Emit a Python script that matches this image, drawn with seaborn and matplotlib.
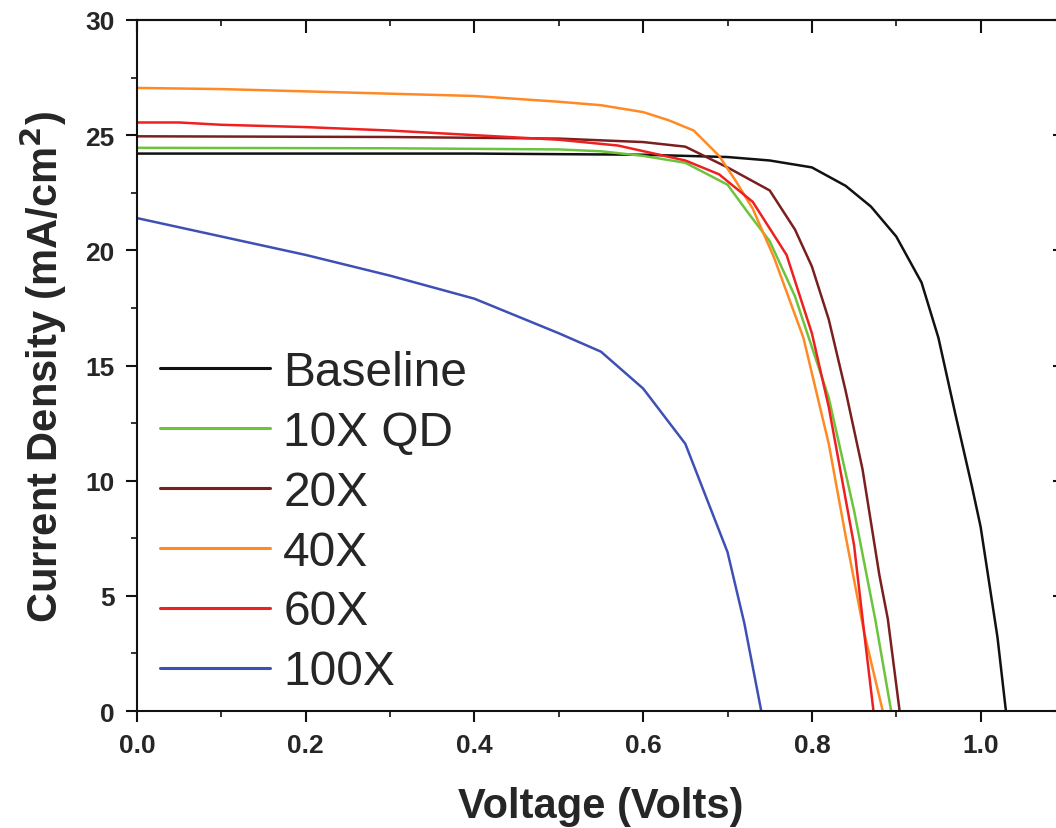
import numpy as np
import pandas as pd
import matplotlib
matplotlib.use("Agg")
import matplotlib.pyplot as plt
from matplotlib.ticker import MultipleLocator
import seaborn as sns

# J-V curves: voltage (V) and current density (mA/cm^2) for each device
series_names = ["Baseline", "10X QD", "20X", "40X", "60X", "100X"]

v_baseline = [0.0, 0.2, 0.4, 0.6, 0.7, 0.75, 0.8, 0.84, 0.87, 0.9, 0.93, 0.95, 0.97, 0.99, 1.0, 1.01, 1.02, 1.03]
j_baseline = [24.2, 24.2, 24.2, 24.15, 24.05, 23.9, 23.6, 22.8, 21.9, 20.6, 18.6, 16.2, 12.9, 9.7, 8.0, 5.6, 3.2, 0.0]

v_10x = [0.0, 0.3, 0.5, 0.55, 0.6, 0.65, 0.7, 0.725, 0.75, 0.78, 0.8, 0.82, 0.85, 0.875, 0.894]
j_10x = [24.45, 24.43, 24.38, 24.3, 24.1, 23.8, 22.85, 21.6, 20.4, 18.0, 15.8, 13.6, 8.7, 4.0, 0.0]

v_20x = [0.0, 0.3, 0.5, 0.6, 0.65, 0.7, 0.75, 0.78, 0.8, 0.82, 0.84, 0.86, 0.88, 0.89, 0.904]
j_20x = [24.95, 24.92, 24.85, 24.7, 24.5, 23.6, 22.6, 20.9, 19.3, 17.0, 13.9, 10.5, 5.9, 4.0, 0.0]

v_40x = [0.0, 0.1, 0.2, 0.3, 0.4, 0.5, 0.55, 0.6, 0.63, 0.66, 0.69, 0.71, 0.73, 0.755, 0.79, 0.82, 0.84, 0.862, 0.884]
j_40x = [27.05, 27.0, 26.9, 26.8, 26.7, 26.45, 26.3, 26.0, 25.65, 25.2, 24.1, 23.0, 21.8, 19.7, 16.2, 11.6, 7.6, 3.4, 0.0]

v_60x = [0.0, 0.05, 0.1, 0.2, 0.3, 0.4, 0.5, 0.57, 0.65, 0.69, 0.73, 0.77, 0.8, 0.82, 0.85, 0.862, 0.873]
j_60x = [25.55, 25.55, 25.45, 25.35, 25.2, 25.0, 24.8, 24.55, 23.9, 23.3, 22.1, 19.8, 16.4, 13.2, 7.2, 3.4, 0.0]

v_100x = [0.0, 0.05, 0.1, 0.2, 0.3, 0.4, 0.5, 0.55, 0.6, 0.65, 0.7, 0.72, 0.74]
j_100x = [21.4, 21.0, 20.6, 19.8, 18.9, 17.9, 16.4, 15.6, 14.0, 11.6, 6.9, 3.8, 0.0]

line_colors = ["#111111", "#6cc43c", "#7a1f1f", "#ff8a24", "#ee2020", "#3f50b5"]

voltages = [v_baseline, v_10x, v_20x, v_40x, v_60x, v_100x]
currents = [j_baseline, j_10x, j_20x, j_40x, j_60x, j_100x]

frames = []
for name, v, j in zip(series_names, voltages, currents):
    frames.append(pd.DataFrame({"Voltage": v, "Current": j, "Sample": name}))
df = pd.concat(frames, ignore_index=True)

sns.set_theme(style="ticks")
plt.rcParams["font.family"] = ["Liberation Sans", "DejaVu Sans"]

fig = plt.figure(figsize=(10.56, 8.29), dpi=100)
ax = fig.add_axes([0.1297, 0.1411, 0.8788, 0.8336])

sns.lineplot(data=df, x="Voltage", y="Current", hue="Sample",
             hue_order=series_names, palette=dict(zip(series_names, line_colors)),
             sort=False, estimator=None, linewidth=1.8, ax=ax)

ax.set_xlim(0, 1.1)
ax.set_ylim(0, 30)

ax.xaxis.set_major_locator(MultipleLocator(0.2))
ax.xaxis.set_minor_locator(MultipleLocator(0.1))
ax.yaxis.set_major_locator(MultipleLocator(5))
ax.yaxis.set_minor_locator(MultipleLocator(2.5))
ax.xaxis.set_major_formatter(plt.FuncFormatter(lambda v, p: f"{v:.1f}"))
ax.yaxis.set_major_formatter(plt.FuncFormatter(lambda v, p: f"{v:.0f}"))

for side in ["left", "bottom", "top", "right"]:
    ax.spines[side].set_visible(True)
    ax.spines[side].set_linewidth(1.5)
    ax.spines[side].set_color("#111111")

ax.tick_params(axis="both", which="major", direction="out", length=8, width=1.5,
               color="#111111", labelsize=19, pad=8, top=False, right=False)
ax.tick_params(axis="both", which="minor", direction="out", length=4.5, width=1.2,
               color="#111111", top=False, right=False)
for lbl in ax.get_xticklabels() + ax.get_yticklabels():
    lbl.set_fontweight("bold")

# inward ticks on the top and right frame
top = ax.secondary_xaxis("top")
top.xaxis.set_major_locator(MultipleLocator(0.2))
top.xaxis.set_minor_locator(MultipleLocator(0.1))
top.tick_params(which="major", direction="in", length=9, width=1.5, labeltop=False, color="#111111")
top.tick_params(which="minor", direction="in", length=4.5, width=1.2, color="#111111")
top.spines["top"].set_linewidth(1.5)

right = ax.secondary_yaxis("right")
right.yaxis.set_major_locator(MultipleLocator(5))
right.yaxis.set_minor_locator(MultipleLocator(2.5))
right.tick_params(which="major", direction="in", length=9, width=1.5, labelright=False, color="#111111")
right.tick_params(which="minor", direction="in", length=4.5, width=1.2, color="#111111")

ax.set_xlabel("Voltage (Volts)", fontsize=30, fontweight="bold", labelpad=21)
ax.set_ylabel("Current Density (mA/cm$^\\mathbf{2}$)", fontsize=30, fontweight="bold", labelpad=12)

handles, labels = ax.get_legend_handles_labels()
for h in handles:
    h.set_linewidth(2.2)
ax.legend(handles, labels, loc="upper left",
          bbox_to_anchor=(160 / 1056, 1 - 351 / 829), bbox_transform=fig.transFigure,
          frameon=False, fontsize=34.5, handlelength=2.3, handletextpad=0.27,
          labelspacing=0.31, borderpad=0, borderaxespad=0)

fig.savefig("out.png", dpi=100)
